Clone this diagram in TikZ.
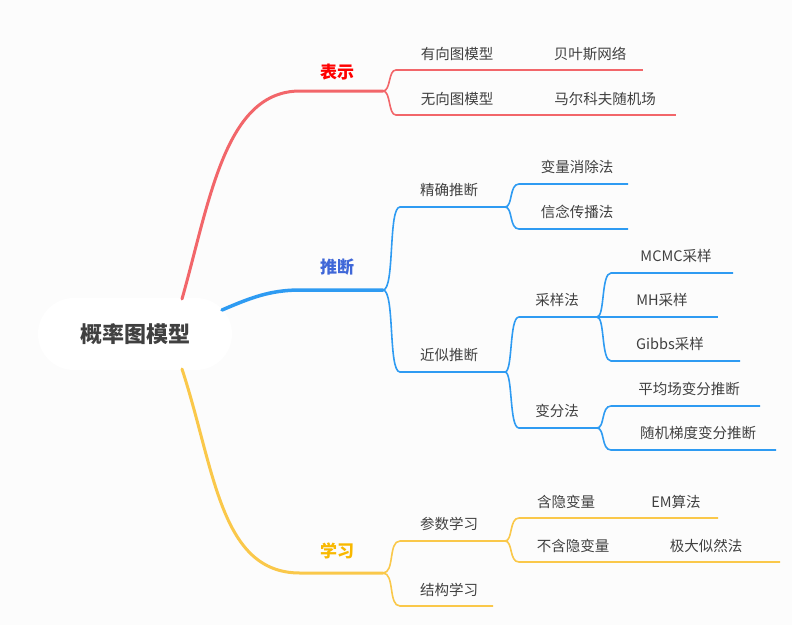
\documentclass[tikz,border=0pt]{standalone}
\usepackage{fontspec}
\setmainfont{Noto Sans CJK SC}
\begin{document}
\begin{tikzpicture}[x=1pt,y=-1pt,
  t/.style={font=\fontsize{14.5}{16}\selectfont, text=black!75, inner sep=0pt},
  lab/.style={font=\fontsize{17}{19}\selectfont\bfseries, inner sep=0pt},
  rl/.style={draw=redl, line width=1.6pt},
  bl/.style={draw=bluel, line width=1.6pt},
  yl/.style={draw=yell, line width=1.6pt}]
\definecolor{redl}{HTML}{F2666A}
\definecolor{bluel}{HTML}{2E9BF2}
\definecolor{yell}{HTML}{FAC84A}
\fill[fill=black!1] (0,0) rectangle (792,625);
\useasboundingbox (0,0) rectangle (792,625);
\node[ellipse/.style={}, fill=white, rounded corners=36pt, minimum width=194pt, minimum height=72pt, inner sep=0pt, font=\fontsize{22}{24}\selectfont\bfseries, text=black!75] (root) at (135,334) {概率图模型};
% main branches
\coordinate (rj) at (383,91);
\coordinate (bj) at (383,290);
\coordinate (yj) at (383,573);
\draw[redl, line width=3pt, line cap=round] (182,299) .. controls (210,200) and (225,91) .. (300,91) -- (rj);
\draw[bluel, line width=3.5pt, line cap=round] (222,310) .. controls (250,298) and (270,290) .. (300,290) -- (bj);
\draw[yell, line width=3pt, line cap=round] (182,369) .. controls (215,470) and (220,573) .. (300,573) -- (yj);
\node[lab, text=red] (r) at (337,72) {表示};
\node[lab, text={rgb,255:red,63;green,103;blue,216}] (b) at (337,267) {推断};
\node[lab, text={rgb,255:red,248;green,184;blue,0}] (y) at (337,551) {学习};
% helper: branch curve
\newcommand\brc[4]{\draw[#1] (#2) .. controls ($(#2)+(8,0)$) and ($(#2)+(4,0)$) .. ($(#2)+(12,0)$);}
% red children
\node[t] (a1) at (457,54) {有向图模型};
\node[t] (a2) at (457,99) {无向图模型};
\node[t] (a3) at (590,54) {贝叶斯网络};
\node[t] (a4) at (605,99) {马尔科夫随机场};
\draw[rl] (rj) .. controls (391,91) and (388,70) .. (396,70) -- (510,70) coordinate (ra);
\draw[rl] (rj) .. controls (391,91) and (388,115) .. (396,115) -- (510,115) coordinate (rb);
\draw[rl] (ra) -- (643,70);
\draw[rl] (rb) -- (676,115);
% blue
\node[t] (p1) at (449,190) {精确推断};
\node[t] (p2) at (449,355) {近似推断};
\draw[bl] (bj) .. controls (395,290) and (388,207) .. (400,207) -- (505,207) coordinate (pj1);
\draw[bl] (bj) .. controls (395,290) and (388,372) .. (400,372) -- (505,372) coordinate (pj2);
\node[t] (q1) at (577,167) {变量消除法};
\node[t] (q2) at (577,212) {信念传播法};
\draw[bl] (pj1) .. controls (513,207) and (509,184) .. (519,184) -- (628,184);
\draw[bl] (pj1) .. controls (513,207) and (509,229) .. (519,229) -- (628,229);
\node[t] (q3) at (557,300) {采样法};
\node[t] (q4) at (557,411) {变分法};
\draw[bl] (pj2) .. controls (513,372) and (509,317) .. (519,317) -- (597,317) coordinate (sj);
\draw[bl] (pj2) .. controls (513,372) and (509,428) .. (519,428) -- (597,428) coordinate (vj);
\node[t] (s1) at (676,256) {MCMC采样};
\node[t] (s2) at (662,300) {MH采样};
\node[t] (s3) at (670,344) {Gibbs采样};
\draw[bl] (sj) .. controls (605,317) and (601,273) .. (611,273) -- (733,273);
\draw[bl] (sj) -- (718,317);
\draw[bl] (sj) .. controls (605,317) and (601,361) .. (611,361) -- (740,361);
\node[t] (v1) at (689,389) {平均场变分推断};
\node[t] (v2) at (698,433) {随机梯度变分推断};
\draw[bl] (vj) .. controls (605,428) and (601,406) .. (611,406) -- (760,406);
\draw[bl] (vj) .. controls (605,428) and (601,450) .. (611,450) -- (776,450);
% yellow
\node[t] (l1) at (449,524) {参数学习};
\node[t] (l2) at (449,590) {结构学习};
\draw[yl] (yj) .. controls (395,573) and (388,541) .. (400,541) -- (505,541) coordinate (lj);
\draw[yl] (yj) .. controls (395,573) and (388,606) .. (400,606) -- (493,606);
\node[t] (m1) at (566,502) {含隐变量};
\node[t] (m2) at (573,546) {不含隐变量};
\node[t] (m3) at (676,502) {EM算法};
\node[t] (m4) at (706,546) {极大似然法};
\draw[yl] (lj) .. controls (513,541) and (509,518) .. (519,518) -- (620,518) -- (718,518);
\draw[yl] (lj) .. controls (513,541) and (509,562) .. (519,562) -- (630,562) -- (780,562);
\end{tikzpicture}
\end{document}
